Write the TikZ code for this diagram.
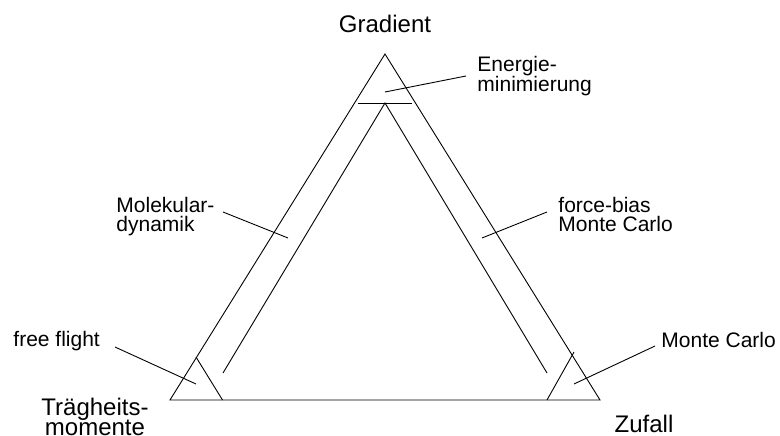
\documentclass[tikz,border=0pt]{standalone}
\usepackage{fontspec}
\setmainfont{Liberation Sans}
\begin{document}
\begin{tikzpicture}[x=1pt,y=-1pt,line width=0.9pt,
  big/.style={font=\fontsize{24}{20.5}\selectfont,inner sep=0pt,align=center},
  small/.style={font=\fontsize{21}{19.5}\selectfont,inner sep=0pt,align=left},
  leader/.style={line width=0.9pt}]
\useasboundingbox (0,0) rectangle (780,436);
% outer triangle
\coordinate (T) at (385,54);
\coordinate (L) at (170,400);
\coordinate (R) at (600,400);
\draw (T) -- (L) -- (R) -- cycle;
% inner lines
\coordinate (IA) at (385,103);
\coordinate (IL) at (223,373);
\coordinate (IR) at (547,373);
\draw (IL) -- (IA) -- (IR);
\coordinate (HL) at (358,103);
\coordinate (HR) at (412,103);
\draw (HL) -- (HR);
% corner lines
\coordinate (CLa) at (196,357);
\coordinate (CLb) at (222.5,400);
\draw (CLa) -- (CLb);
\coordinate (CRa) at (574,352);
\coordinate (CRb) at (547,400);
\draw (CRa) -- (CRb);
% labels
\node[big,anchor=base] (grad) at (385,33) {Gradient};
\node[big,anchor=base] (traeg) at (95,435.5) {Trägheits-\\momente};
\node[big,anchor=base] (zuf) at (644,432) {Zufall};
\node[small,anchor=base west] (ener) at (477,91.7) {Energie-\\minimierung};
\node[small,anchor=base west] (mol) at (116,231.7) {Molekular-\\dynamik};
\node[small,anchor=base west] (fb) at (558,231.7) {force-bias\\Monte Carlo};
\node[small,anchor=base west] (ff) at (13,346) {free flight};
\node[small,anchor=base west] (mc) at (661,347) {Monte Carlo};
% leader lines
\coordinate (e1) at (466,76);  \coordinate (e2) at (385,92);
\coordinate (m1) at (223,212); \coordinate (m2) at (288,238);
\coordinate (f1) at (547,212); \coordinate (f2) at (482,238);
\coordinate (g1) at (115,347); \coordinate (g2) at (196,384);
\coordinate (c1) at (655,346); \coordinate (c2) at (574,384);
\draw[leader] (e1) -- (e2);
\draw[leader] (m1) -- (m2);
\draw[leader] (f1) -- (f2);
\draw[leader] (g1) -- (g2);
\draw[leader] (c1) -- (c2);
\end{tikzpicture}
\end{document}
